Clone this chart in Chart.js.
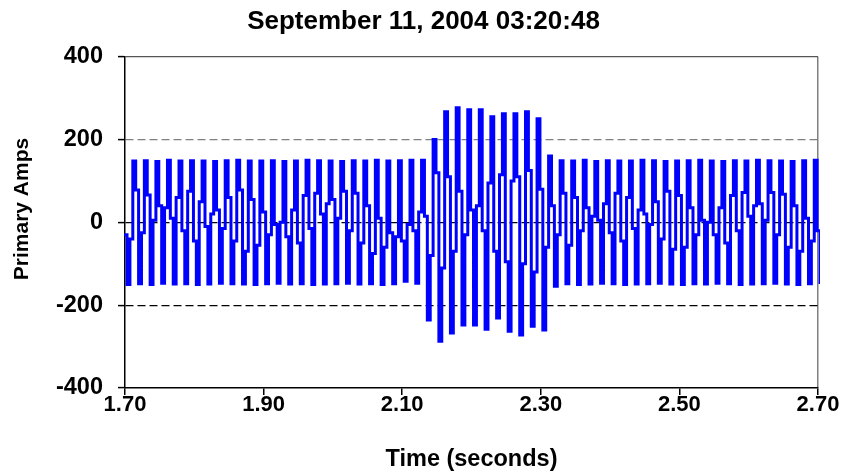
<!DOCTYPE html>
<html>
<head>
<meta charset="utf-8">
<script src="https://cdn.jsdelivr.net/npm/chart.js@4.4.1/dist/chart.umd.min.js"></script>
<style>
  html, body { margin: 0; padding: 0; background: #fff; }
  #wrap { width: 847px; height: 476px; }
</style>
</head>
<body>
<div id="wrap"><canvas id="amps-chart" width="847" height="476"></canvas></div>
<script>
const chartTitle = "September 11, 2004 03:20:48";
const xTitle = "Time (seconds)";
const yTitle = "Primary Amps";
const xTicks = [1.7, 1.9, 2.1, 2.3, 2.5, 2.7];
const yTicks = [-400, -200, 0, 200, 400];

// recorder clock: 4 held samples per 60 Hz cycle
const firstSample = 1.6946;
const samplesPerSecond = 240;

// one value per cycle (peak, step down, trough, step up)
const cyclePeaks = [150,
  148, 149, 147, 150, 148, 149, 148, 147, 149, 150, 148, 148, 149, 147, 148, 150, 149, 148, 147, 149, 148, 150, 148, 149, 150, 150,
  200, 267, 277, 272, 272, 255, 262, 262, 267, 250,
  160,
  149, 148, 150, 147, 149, 148, 148, 150, 149, 147, 148, 149, 150, 148, 147, 149, 148, 150, 149, 148, 147, 149, 150];
const cycleDownSteps = [-30,
  78, 66, 40, 10, -20, -45, -10, 30, 60, 78, 55, 25, -5, -35, -50, -15, 20, 55, 75, 70, 40, 10, -25, -45, -20, 15,
  120, 110, 75, 30, -20, -70, -95, 110, 125, 80,
  40,
  70, 60, 35, 5, -25, -45, -15, 20, 50, 75, 65, 35, 5, -30, -50, -20, 15, 45, 72, 68, 40, 10, -20];
const cycleTroughs = [-150,
  -148, -150, -147, -149, -148, -150, -149, -147, -148, -149, -150, -148, -147, -149, -148, -150, -149, -148, -147, -149, -148, -150, -148, -142, -147,
  -236,
  -287, -267, -248, -248, -258, -231, -263, -272, -251, -260,
  -154,
  -148, -150, -149, -147, -148, -150, -149, -148, -147, -149, -150, -148, -149, -147, -148, -150, -149, -148, -147, -149, -150, -148, -149];
const cycleUpSteps = [-40,
  -25, 5, 35, 60, 75, 50, 20, -15, -45, -70, -55, -30, 0, 30, 65, 70, 45, 10, -20, -50, -75, -60, -35, -5, 25, -80,
  -110, -70, -30, 40, 95, 115, 100, -100, -120, -60,
  -30,
  -55, -20, 15, 45, 70, 60, 30, -5, -40, -65, -60, -30, 0, 35, 65, 72, 40, 5, -30, -60, -70, -45, -10];

const samples = [];
cyclePeaks.forEach((peak, i) => {
  [peak, cycleDownSteps[i], cycleTroughs[i], cycleUpSteps[i]].forEach((amps, j) => {
    samples.push({ x: firstSample + (i * 4 + j) / samplesPerSecond, y: amps });
  });
});

const fontFamily = "'Liberation Sans', Arial, sans-serif";
const boldFont = (size) => ({ family: fontFamily, size: size, weight: "bold" });

// y title sits a little above the middle of the axis in the original
const yTitlePlugin = {
  id: "yTitle",
  afterDraw(chart) {
    const c = chart.ctx;
    c.save();
    c.translate(22, 209);
    c.rotate(-Math.PI / 2);
    c.font = "bold 21px " + fontFamily;
    c.fillStyle = "#000";
    c.textAlign = "center";
    c.textBaseline = "middle";
    c.fillText(yTitle, 0, 0);
    c.restore();
  },
};

const ctx = document.getElementById("amps-chart").getContext("2d");

new Chart(ctx, {
  type: "line",
  plugins: [yTitlePlugin],
  data: {
    datasets: [
      {
        data: samples,
        borderColor: "#0000ff",
        borderWidth: 3,
        pointRadius: 0,
        stepped: true,
        fill: false,
        clip: 2,
      },
    ],
  },
  options: {
    responsive: false,
    animation: false,
    layout: { padding: 0 },
    plugins: {
      legend: { display: false },
      tooltip: { enabled: false },
      title: {
        display: true,
        text: chartTitle,
        color: "#000",
        font: boldFont(26),
        padding: { top: 6, bottom: 19.5 },
      },
    },
    scales: {
      x: {
        type: "linear",
        min: 1.7,
        max: 2.7,
        afterBuildTicks: (scale) => {
          scale.ticks = xTicks.map((v) => ({ value: v }));
        },
        afterFit: (scale) => {
          scale.height = 88;
        },
        ticks: {
          callback: (v) => v.toFixed(2),
          color: "#000",
          font: boldFont(22),
          padding: -3,
          maxRotation: 0,
          autoSkip: false,
        },
        grid: {
          color: (c) => (c.index === xTicks.length - 1 ? "#808080" : "rgba(0,0,0,0)"),
          lineWidth: 1.5,
          tickColor: "#000",
          tickLength: 7,
          tickWidth: 1.5,
        },
        border: { color: "#000", width: 1.5 },
        title: {
          display: true,
          text: xTitle,
          color: "#000",
          font: boldFont(23.5),
          padding: { top: 0, bottom: 2 },
        },
      },
      y: {
        min: -400,
        max: 400,
        afterBuildTicks: (scale) => {
          scale.ticks = yTicks.map((v) => ({ value: v }));
        },
        afterFit: (scale) => {
          scale.width = 125;
        },
        ticks: {
          color: "#000",
          font: boldFont(23.5),
          padding: 15,
        },
        grid: {
          color: (c) => {
            const v = c.tick ? c.tick.value : 0;
            if (v === -400) return "rgba(0,0,0,0)";
            if (v === 200) return "#808080";
            if (v === 400) return "#555";
            return "#000";
          },
          lineWidth: 1.2,
          tickColor: "#000",
          tickLength: 7,
          tickWidth: 1.5,
        },
        border: {
          color: "#000",
          width: 1.5,
          dash: (c) => (c.tick && Math.abs(c.tick.value) < 400 ? [8, 4] : []),
        },
        title: { display: false },
      },
      // empty right-hand scale: keeps the right margin so the title stays centred on the page
      yRight: {
        position: "right",
        display: true,
        afterFit: (scale) => {
          scale.width = 29;
        },
        ticks: { display: false },
        grid: { display: false },
        border: { display: false },
      },
    },
  },
});
</script>
</body>
</html>
